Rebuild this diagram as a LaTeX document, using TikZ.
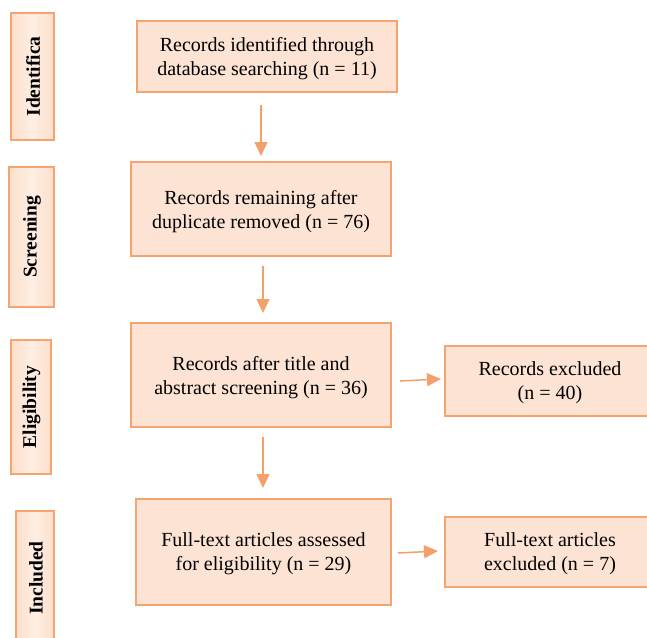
\documentclass[tikz,border=0pt]{standalone}
\usepackage{fontspec}
\setmainfont{Liberation Serif}
\usetikzlibrary{arrows.meta}
\definecolor{edgeor}{HTML}{F5A36F}
\definecolor{boxfill}{HTML}{FDE3D4}
\definecolor{sidedark}{HTML}{FCDFCC}
\definecolor{sidelight}{HTML}{FEEEE2}
\definecolor{arrowor}{HTML}{F4A06A}
\tikzset{
  mainbox/.style={draw=edgeor, line width=1.6pt, fill=boxfill, align=center,
    font=\fontsize{20}{24}\selectfont, inner sep=0pt, text depth=-2pt},
  sidebox/.style={draw=edgeor, line width=1.6pt, left color=sidedark, right color=sidedark,
    middle color=sidelight, inner sep=0pt},
  sidetext/.style={font=\fontsize{19.5}{22}\selectfont\bfseries, rotate=90},
  flow/.style={draw=arrowor, line width=1.5pt, -{Triangle[length=14pt,width=13pt]}}
}
\begin{document}
\begin{tikzpicture}[x=1pt,y=-1pt]
\useasboundingbox (0,0) rectangle (647,637);
% side boxes
\path[sidebox] (11,13) rectangle (54,140);
\node[sidetext] (s1) at (33,76.5) {Identifica};
\path[sidebox] (9,167) rectangle (54,307);
\node[sidetext] (s2) at (32,237) {Screening};
\path[sidebox] (11,340) rectangle (51,474);
\node[sidetext] (s3) at (31.5,407) {Eligibility};
\path[sidebox] (16,511) rectangle (54,645);
\node[sidetext] (s4) at (36,578) {Included};
% main boxes
\node[mainbox, minimum width=260pt, minimum height=71pt] (b1) at (267,56.5) {Records identified through\\database searching (n = 11)};
\node[mainbox, minimum width=260pt, minimum height=94pt] (b2) at (261,209) {Records remaining after\\duplicate removed (n = 76)};
\node[mainbox, minimum width=260pt, minimum height=104pt] (b3) at (261,375) {Records after title and\\abstract screening (n = 36)};
\node[mainbox, minimum width=255pt, minimum height=106pt] (b4) at (263.5,552) {Full-text articles assessed\\for eligibility (n = 29)};
\node[mainbox, minimum width=210pt, minimum height=70pt] (r1) at (550,381) {Records excluded\\(n = 40)};
\node[mainbox, minimum width=210pt, minimum height=70pt] (r2) at (550,552) {Full-text articles\\excluded (n = 7)};
% arrows
\coordinate (a1s) at (261,105);
\coordinate (a1e) at (261,156);
\coordinate (a2s) at (263,266);
\coordinate (a2e) at (263,313);
\coordinate (a3s) at (263,437);
\coordinate (a3e) at (263,488);
\coordinate (h1s) at (400,381);
\coordinate (h1e) at (441,379);
\coordinate (h2s) at (398,553);
\coordinate (h2e) at (438,551);
\draw[flow] (a1s) -- (a1e);
\draw[flow] (a2s) -- (a2e);
\draw[flow] (a3s) -- (a3e);
\draw[flow] (h1s) -- (h1e);
\draw[flow] (h2s) -- (h2e);
\end{tikzpicture}
\end{document}
